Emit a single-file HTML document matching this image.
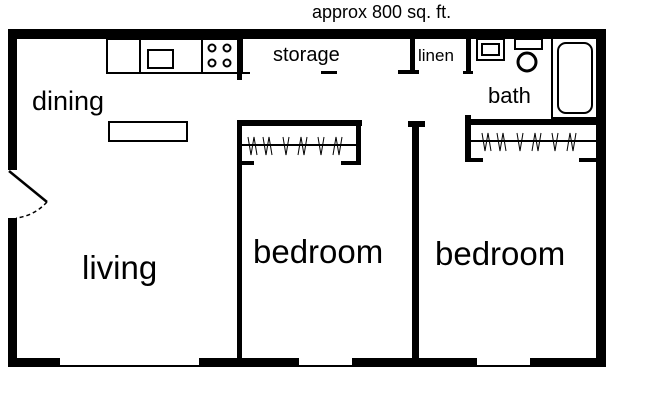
<!DOCTYPE html>
<html><head><meta charset="utf-8"><style>
html,body{margin:0;padding:0;background:#fff;}
svg{display:block;}
text{font-family:"Liberation Sans",sans-serif;fill:#000;}
</style></head><body>
<svg width="650" height="403" viewBox="0 0 650 403" xmlns="http://www.w3.org/2000/svg">
<rect width="650" height="403" fill="#fff"/>
<text x="312" y="18" font-size="18">approx 800 sq. ft.</text>
<!-- outer walls -->
<rect x="8" y="29" width="598" height="10" fill="#000"/>
<rect x="8" y="29" width="9" height="141" fill="#000"/>
<rect x="8" y="218" width="9" height="149" fill="#000"/>
<rect x="596" y="29" width="10" height="338" fill="#000"/>
<rect x="8" y="358" width="598" height="9" fill="#000"/>
<!-- windows -->
<rect x="60" y="358" width="139" height="7" fill="#fff"/>
<rect x="299" y="358" width="53" height="7" fill="#fff"/>
<rect x="477" y="358" width="53" height="7" fill="#fff"/>
<!-- door -->
<line x1="9" y1="171" x2="47" y2="202" stroke="#000" stroke-width="2.5"/>
<path d="M47 202 Q34 216 16 218" fill="none" stroke="#000" stroke-width="1.5" stroke-dasharray="4,3"/>
<!-- kitchen -->
<g fill="none" stroke="#000" stroke-width="2">
<rect x="107" y="39" width="135" height="34"/>
<line x1="140" y1="39" x2="140" y2="73"/>
<line x1="202" y1="39" x2="202" y2="73"/>
<rect x="148" y="50" width="25" height="18"/>
<circle cx="212" cy="48" r="3.5"/><circle cx="227" cy="48" r="3.5"/>
<circle cx="212" cy="63" r="3.5"/><circle cx="227" cy="63" r="3.5"/>
<line x1="106" y1="73" x2="250" y2="73"/>
</g>
<rect x="237" y="39" width="5" height="41" fill="#000"/>
<text x="273" y="61" font-size="20">storage</text>
<rect x="321" y="71" width="16" height="3" fill="#000"/>
<rect x="410" y="39" width="5" height="34" fill="#000"/>
<rect x="398" y="70" width="21" height="4" fill="#000"/>
<text x="418" y="61" font-size="17">linen</text>
<rect x="466" y="39" width="5" height="35" fill="#000"/>
<rect x="463" y="71" width="10" height="3" fill="#000"/>
<!-- bath fixtures -->
<g fill="none" stroke="#000" stroke-width="2">
<rect x="477" y="39" width="27" height="21"/>
<rect x="482" y="44" width="17" height="11"/>
<rect x="515" y="39" width="27" height="10"/>
<ellipse cx="527" cy="62" rx="9" ry="9" stroke-width="3"/>
<polyline points="552,39 552,118 596,118"/>
<rect x="558" y="43" width="34" height="70" rx="8"/>
</g>
<text x="488" y="103" font-size="22">bath</text>
<text x="32" y="110" font-size="27">dining</text>
<rect x="109" y="122" width="78" height="19" fill="none" stroke="#000" stroke-width="2"/>
<!-- bedroom 1 -->
<rect x="237" y="120" width="125" height="6" fill="#000"/>
<rect x="237" y="120" width="5" height="238" fill="#000"/>
<rect x="356" y="120" width="5" height="45" fill="#000"/>
<rect x="341" y="161" width="20" height="4" fill="#000"/>
<rect x="237" y="161" width="17" height="4" fill="#000"/>
<line x1="242" y1="145" x2="356" y2="145" stroke="#000" stroke-width="2"/>
<path d="M248 137 L251 155 L254 137 L257 155 M263 137 L266 155 L269 137 L272 155 M283 137 L286 155 L289 137 M298 155 L301 137 L304 155 L307 137 M318 137 L321 155 L324 137 M333 155 L336 137 L339 155 L342 137" fill="none" stroke="#000" stroke-width="1"/>
<!-- center wall -->
<rect x="408" y="121" width="17" height="6" fill="#000"/>
<rect x="412" y="121" width="7" height="237" fill="#000"/>
<!-- bedroom 2 closet -->
<rect x="465" y="119" width="141" height="6" fill="#000"/>
<rect x="465" y="115" width="6" height="47" fill="#000"/>
<rect x="465" y="158" width="18" height="4" fill="#000"/>
<rect x="579" y="158" width="17" height="4" fill="#000"/>
<line x1="471" y1="141" x2="596" y2="141" stroke="#000" stroke-width="2"/>
<path d="M482 133 L485 151 L488 133 L491 151 M497 133 L500 151 L503 133 L506 151 M517 133 L520 151 L523 133 M532 151 L535 133 L538 151 L541 133 M552 133 L555 151 L558 133 M567 151 L570 133 L573 151 L576 133" fill="none" stroke="#000" stroke-width="1"/>
<text x="82" y="279" font-size="33">living</text>
<text x="253" y="263" font-size="33">bedroom</text>
<text x="435" y="265" font-size="33">bedroom</text>
</svg>
</body></html>
